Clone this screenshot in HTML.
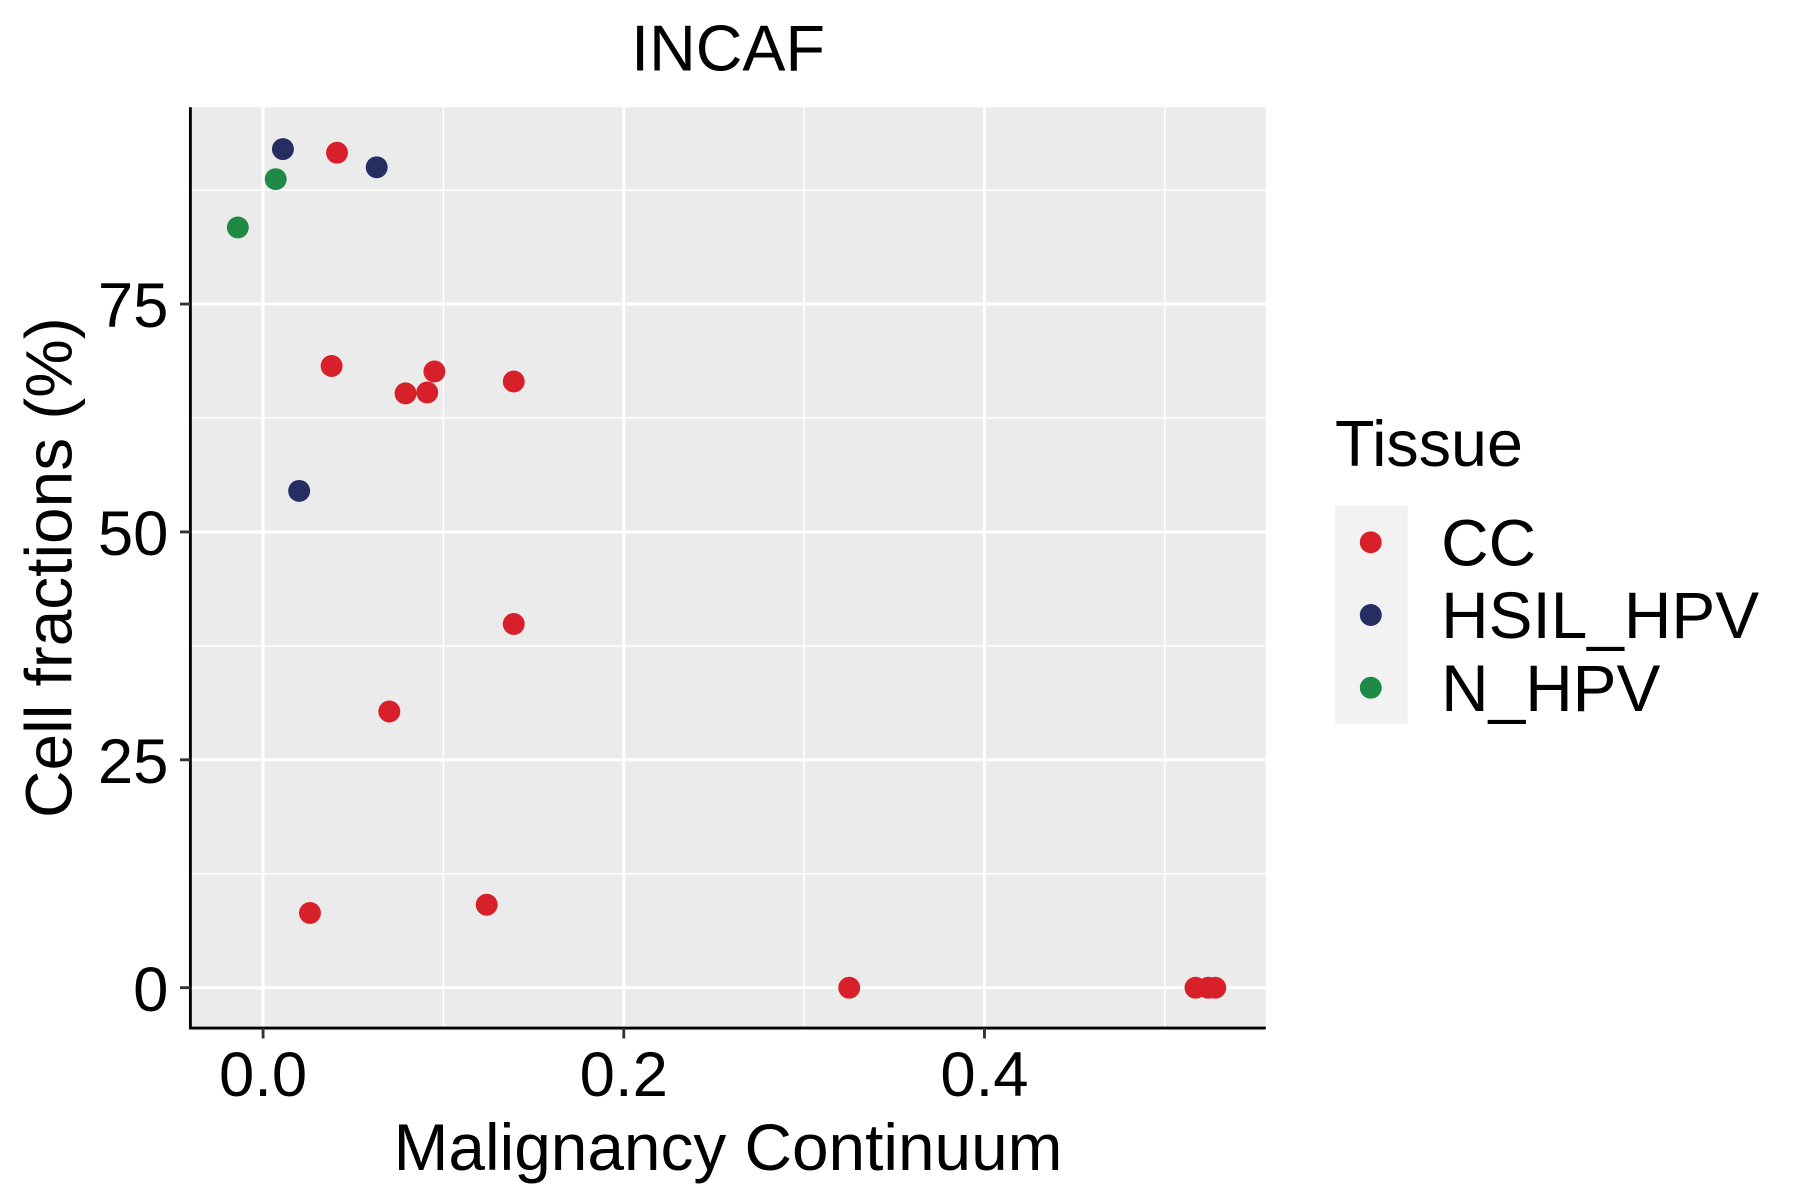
<!DOCTYPE html>
<html><head><meta charset="utf-8"><style>html,body{margin:0;padding:0;background:#fff}svg{display:block}text{font-family:"Liberation Sans",sans-serif;fill:#000}</style></head>
<body>
<svg id="chart" width="1800" height="1200" viewBox="0 0 1560 1040" xmlns="http://www.w3.org/2000/svg">
<rect x="165" y="93" width="932" height="798" fill="#ebebeb"/>
<g id="grid"></g>
<g id="points"></g>
<line x1="165" y1="93" x2="165" y2="892" stroke="#000" stroke-width="2.5"/>
<line x1="164" y1="891" x2="1097" y2="891" stroke="#000" stroke-width="2.5"/>
<g id="ticks"></g>
<text x="631" y="61" font-size="56" text-anchor="middle">INCAF</text>
<text x="631" y="1014" font-size="57" text-anchor="middle">Malignancy Continuum</text>
<text transform="translate(62,492) rotate(-90)" font-size="57" text-anchor="middle">Cell fractions (%)</text>
<g>
<text x="1157" y="404" font-size="56">Tissue</text>
<rect x="1157" y="438" width="63" height="189" fill="#f2f2f2"/>
<circle cx="1188" cy="470" r="9.5" fill="#d7202a"/>
<circle cx="1188" cy="533" r="9.5" fill="#262d62"/>
<circle cx="1188" cy="596" r="9.5" fill="#1e8a45"/>
<text x="1249" y="490" font-size="57">CC</text>
<text x="1249" y="553" font-size="57">HSIL_HPV</text>
<text x="1249" y="616" font-size="57">N_HPV</text>
</g>
</svg>
<script>
const xTicks = [0.0, 0.2, 0.4];
const xTickLabels = ["0.0", "0.2", "0.4"];
const xMinor = [0.1, 0.3, 0.5];
const yTicks = [0, 25, 50, 75];
const yTickLabels = ["0", "25", "50", "75"];
const yMinor = [12.5, 37.5, 62.5, 87.5];
const ccX = [0.041, 0.038, 0.079, 0.091, 0.095, 0.139, 0.139, 0.070, 0.026, 0.124, 0.325, 0.517, 0.524, 0.528];
const ccY = [91.6, 68.2, 65.2, 65.3, 67.6, 66.5, 39.9, 30.3, 8.2, 9.1, 0, 0, 0, 0];
const hsilX = [0.011, 0.063, 0.020];
const hsilY = [92.0, 90.0, 54.5];
const nX = [0.007, -0.014];
const nY = [88.7, 83.4];

const NS = "http://www.w3.org/2000/svg";
function xs(v){ return 228 + v * 1563; }
function ys(v){ return 856 - v * 7.9; }
function mk(tag, attrs, parent){
  const e = document.createElementNS(NS, tag);
  for (const k in attrs) e.setAttribute(k, attrs[k]);
  parent.appendChild(e);
  return e;
}
const grid = document.getElementById('grid');
const ticks = document.getElementById('ticks');
const pts = document.getElementById('points');
xMinor.forEach(v => {
  const l = mk('line', {x1: xs(v), x2: xs(v), y1: 93, y2: 891, stroke: '#fff', 'stroke-width': 1.3}, grid);
  
  
});
yMinor.forEach(v => {
  const l = mk('line', {x1: 165, x2: 1097, y1: ys(v), y2: ys(v), stroke: '#fff', 'stroke-width': 1.3}, grid);
  
  
});
xTicks.forEach((v, i) => {
  const l = mk('line', {x1: xs(v), x2: xs(v), y1: 93, y2: 891, stroke: '#fff', 'stroke-width': 2.6}, grid);
  
  
  const t = mk('line', {x1: xs(v), x2: xs(v), y1: 891, y2: 900, stroke: '#333', 'stroke-width': 2.5}, ticks);
  
  
  const tx = mk('text', {x: xs(v), y: 950, 'font-size': 55, 'text-anchor': 'middle'}, ticks);
  tx.textContent = xTickLabels[i];
  
  
});
yTicks.forEach((v, i) => {
  const l = mk('line', {x1: 165, x2: 1097, y1: ys(v), y2: ys(v), stroke: '#fff', 'stroke-width': 2.6}, grid);
  
  
  const t = mk('line', {x1: 156, x2: 165, y1: ys(v), y2: ys(v), stroke: '#333', 'stroke-width': 2.5}, ticks);
  
  
  const tx = mk('text', {x: 146, y: ys(v) + 20, 'font-size': 55, 'text-anchor': 'end'}, ticks);
  tx.textContent = yTickLabels[i];
  
  
});
function drawSeries(X, Y, color, name){
  X.forEach((x, i) => {
    const c = mk('circle', {cx: xs(x), cy: ys(Y[i]), r: 9.5, fill: color}, pts);
    
    
  });
}
drawSeries(ccX, ccY, '#d7202a', 'point-cc');
drawSeries(hsilX, hsilY, '#262d62', 'point-hsil-hpv');
drawSeries(nX, nY, '#1e8a45', 'point-n-hpv');
</script>
</body></html>
